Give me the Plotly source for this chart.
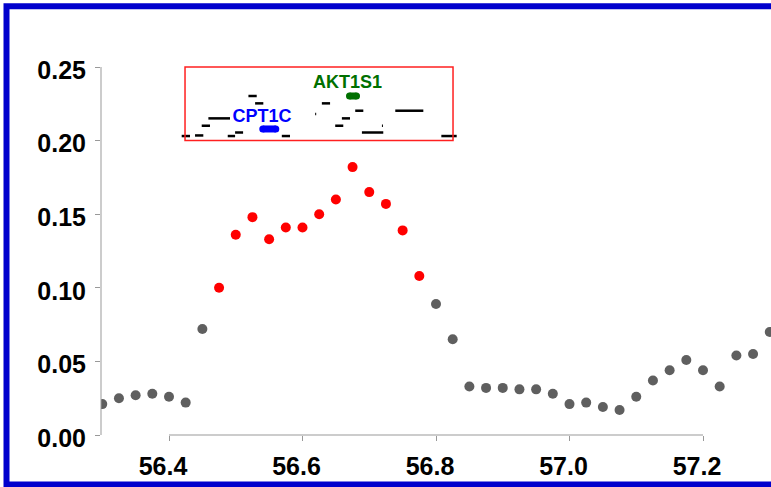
import plotly.graph_objects as go

# ---- data ----
positions_mb = [56.300, 56.325, 56.350, 56.375, 56.400, 56.425, 56.450, 56.475, 56.500, 56.525,
                56.550, 56.575, 56.600, 56.625, 56.650, 56.675, 56.700, 56.725, 56.750, 56.775,
                56.800, 56.825, 56.850, 56.875, 56.900, 56.925, 56.950, 56.975, 57.000, 57.025,
                57.050, 57.075, 57.100, 57.125, 57.150, 57.175, 57.200, 57.225, 57.250, 57.275,
                57.300]
scores = [0.021, 0.025, 0.027, 0.028, 0.026, 0.022, 0.072, 0.100, 0.136, 0.148,
          0.133, 0.141, 0.141, 0.150, 0.160, 0.182, 0.165, 0.157, 0.139, 0.108,
          0.089, 0.065, 0.033, 0.032, 0.032, 0.031, 0.031, 0.028, 0.021, 0.022,
          0.019, 0.017, 0.026, 0.037, 0.044, 0.051, 0.044, 0.033, 0.054, 0.055,
          0.070]
significant = [0, 0, 0, 0, 0, 0, 0, 1, 1, 1,
               1, 1, 1, 1, 1, 1, 1, 1, 1, 1,
               0, 0, 0, 0, 0, 0, 0, 0, 0, 0,
               0, 0, 0, 0, 0, 0, 0, 0, 0, 0,
               0]

x_ticks = [56.4, 56.6, 56.8, 57.0, 57.2]
x_tick_labels = ["56.4", "56.6", "56.8", "57.0", "57.2"]
y_ticks = [0.00, 0.05, 0.10, 0.15, 0.20, 0.25]
y_tick_labels = ["0.00", "0.05", "0.10", "0.15", "0.20", "0.25"]

# gene track (start, end in Mb; track level)
gene_starts = [56.419, 56.439, 56.449, 56.459, 56.488, 56.499, 56.519, 56.529, 56.569, 56.619,
               56.629, 56.679, 56.659, 56.649, 56.689, 56.719, 56.739, 56.808]
gene_ends = [56.4315, 56.4514, 56.4614, 56.4914, 56.499, 56.511, 56.5314, 56.5413, 56.5813, 56.6205,
             56.6413, 56.6911, 56.6712, 56.6611, 56.721, 56.7205, 56.781, 56.831]
gene_levels = [0.2031, 0.2035, 0.2101, 0.2151, 0.2031, 0.2055, 0.2303, 0.2253, 0.2031, 0.2180,
               0.2253, 0.2203, 0.2151, 0.2101, 0.2055, 0.2101, 0.2203, 0.2031]

named_genes = ["CPT1C", "AKT1S1"]
named_starts = [56.5405, 56.6704]
named_ends = [56.5600, 56.6809]
named_levels = [0.2079, 0.2303]
named_colors = ["#0000FF", "#007000"]
label_x = [56.5395, 56.6675]
label_y = [0.2160, 0.2390]

gene_box_x = [56.424, 56.8255]
gene_box_y = [0.200, 0.250]

fig = go.Figure()

# gene segments
gx, gy = [], []
for s, e, l in zip(gene_starts, gene_ends, gene_levels):
    gx += [s, e, None]
    gy += [l, l, None]
fig.add_trace(go.Scatter(x=gx, y=gy, mode="lines", line=dict(color="black", width=2.5),
                         hoverinfo="skip", showlegend=False, cliponaxis=False))

for name, s, e, l, c, lx, ly in zip(named_genes, named_starts, named_ends, named_levels,
                                    named_colors, label_x, label_y):
    fig.add_trace(go.Scatter(x=[s, e], y=[l, l], mode="lines+markers",
                             line=dict(color=c, width=7),
                             marker=dict(color=c, size=7, line=dict(width=0)),
                             hoverinfo="skip", showlegend=False))
    fig.add_trace(go.Scatter(x=[lx], y=[ly], mode="text", text=[name],
                             textfont=dict(family="Liberation Sans, Arial", size=18, color=c, weight="bold"),
                             hoverinfo="skip", showlegend=False))

# association points
gx_pts = [p for p, f in zip(positions_mb, significant) if not f]
gy_pts = [v for v, f in zip(scores, significant) if not f]
rx_pts = [p for p, f in zip(positions_mb, significant) if f]
ry_pts = [v for v, f in zip(scores, significant) if f]
fig.add_trace(go.Scatter(x=gx_pts, y=gy_pts, mode="markers",
                         marker=dict(color="#5f5f5f", size=10, line=dict(width=0)), showlegend=False))
fig.add_trace(go.Scatter(x=rx_pts, y=ry_pts, mode="markers",
                         marker=dict(color="#ff0000", size=10, line=dict(width=0)), showlegend=False))

W, H = 771, 487
ML, MR, MT, MB = 101, 0, 40, 52
pw, ph = W - ML - MR, H - MT - MB
x_left = 56.4 - (169 - ML) / 667.5
x_right = 56.4 + (W - 169) / 667.5
y_top = (H - MB - MT) / 1472.0

def px_to_paper_x(px):
    return (px - ML) / pw

def py_to_paper_y(py):
    return (H - MB - py) / ph

shapes = [
    # gene box
    dict(type="rect", xref="x", yref="y", x0=gene_box_x[0], x1=gene_box_x[1],
         y0=gene_box_y[0], y1=gene_box_y[1], line=dict(color="#ff2020", width=1.5)),
    # axis lines (R style: spanning tick range)
    dict(type="line", xref="paper", yref="y", x0=0, x1=0, y0=y_ticks[0], y1=y_ticks[-1],
         line=dict(color="#999999", width=1)),
    dict(type="line", xref="x", yref="paper", x0=x_ticks[0], x1=x_ticks[-1], y0=0, y1=0,
         line=dict(color="#999999", width=1)),
    # outer blue frame
    dict(type="rect", xref="paper", yref="paper",
         x0=px_to_paper_x(6.5), x1=px_to_paper_x(790), y0=py_to_paper_y(484.5), y1=py_to_paper_y(6.3),
         line=dict(color="#0000CD", width=6)),
]

fig.update_layout(
    width=W, height=H,
    margin=dict(l=ML, r=MR, t=MT, b=MB),
    plot_bgcolor="white", paper_bgcolor="white",
    shapes=shapes,
    xaxis=dict(range=[x_left, x_right], tickvals=x_ticks, ticktext=x_tick_labels,
               showgrid=False, zeroline=False, showline=False,
               ticks="outside", ticklen=5, tickcolor="#999999", tickwidth=1,
               tickfont=dict(family="Liberation Sans, Arial", size=25, color="black", weight="bold"),
               ticklabelshift=-6, ticklabelstandoff=4),
    yaxis=dict(range=[0, y_top], tickvals=y_ticks, ticktext=y_tick_labels,
               showgrid=False, zeroline=False, showline=False,
               ticks="outside", ticklen=5, tickcolor="#999999", tickwidth=1,
               tickfont=dict(family="Liberation Sans, Arial", size=25, color="black", weight="bold"),
               ticklabelshift=3, ticklabelstandoff=4),
)

fig.write_html("out.html", config={"displayModeBar": False},
               post_script="document.body.style.margin='0px';document.body.style.overflow='hidden';")
